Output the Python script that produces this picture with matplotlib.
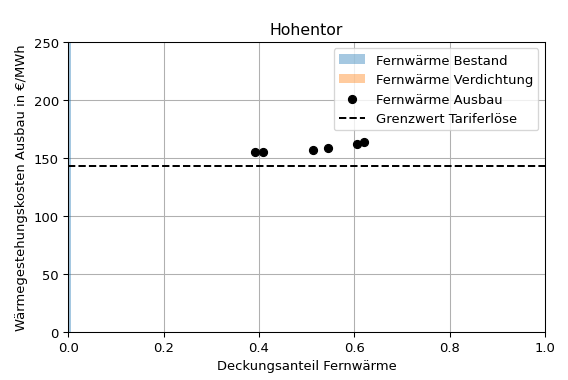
import matplotlib.pyplot as plt

# Fernwärme Bestand / Verdichtung: (Deckungsanteil, Kosten)
bestand_anteil = [0.007]
bestand_kosten = [300.0]
verdichtung_anteil = [0.0]
verdichtung_kosten = [0.0]

# Fernwärme Ausbau
ausbau_anteil = [0.392, 0.408, 0.513, 0.544, 0.605, 0.620]
ausbau_kosten = [154.7, 154.7, 156.9, 158.1, 162.1, 163.3]

grenzwert = 143.0

# original looks like a 6x4 inch figure scaled down to 568 px wide
dpi = 568 / 6
fig = plt.figure(figsize=(6, 381 / dpi), dpi=dpi)
ax = fig.add_axes([0.120, 0.127, 0.8395, 0.761])

ax.bar(0, bestand_kosten[0], width=bestand_anteil[0], align='edge',
       color='tab:blue', alpha=0.4, label='Fernwärme Bestand')
ax.bar(bestand_anteil[0], verdichtung_kosten[0], width=verdichtung_anteil[0], align='edge',
       color='tab:orange', alpha=0.4, label='Fernwärme Verdichtung')
ax.scatter(ausbau_anteil, ausbau_kosten, color='black', zorder=3, label='Fernwärme Ausbau')
ax.axhline(grenzwert, color='black', linestyle='--', label='Grenzwert Tariferlöse')

ax.set_xlim(0, 1)
ax.set_ylim(0, 250)
ax.grid(True)
ax.set_axisbelow(True)
ax.set_title('Hohentor')
ax.set_xlabel('Deckungsanteil Fernwärme')
ax.set_ylabel('Wärmegestehungskosten Ausbau in €/MWh')

# legend in the same order as the reference: bars first
handles, labels = ax.get_legend_handles_labels()
order = [labels.index(l) for l in ['Fernwärme Bestand', 'Fernwärme Verdichtung',
                                   'Fernwärme Ausbau', 'Grenzwert Tariferlöse']]
ax.legend([handles[i] for i in order], [labels[i] for i in order], loc='upper right')

fig.savefig('out.png', dpi=dpi)
